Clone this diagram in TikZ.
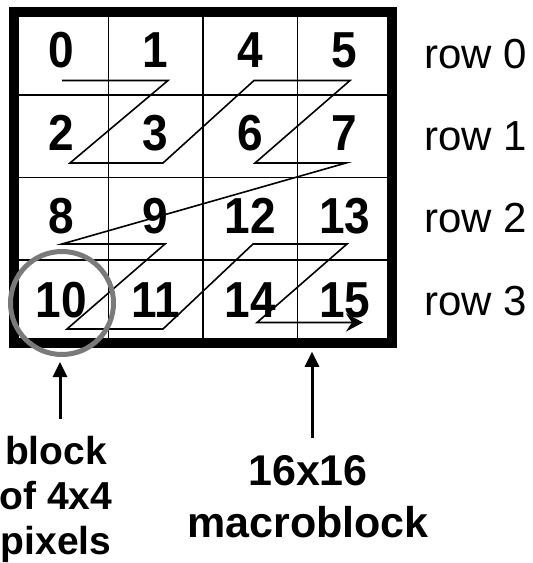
\documentclass[tikz,border=0pt]{standalone}
\usepackage{fontspec}
\usepackage{graphicx}
\setmainfont{Liberation Sans}
\usetikzlibrary{arrows.meta}
\definecolor{ringgray}{HTML}{7A7A7A}
\newcommand{\dgt}[1]{\scalebox{1}[1.1]{#1}}
\begin{document}
\begin{tikzpicture}[x=1pt,y=-1pt,
  num/.style={font=\fontsize{46}{46}\selectfont\bfseries, inner sep=0pt, anchor=base},
  rowlbl/.style={font=\fontsize{42}{42}\selectfont, inner sep=0pt, anchor=base west},
  gridline/.style={line width=1.8pt},
  zz/.style={line width=1.6pt, line join=miter},
  ptr/.style={line width=3pt, -{Triangle[length=15pt,width=14pt]}},
  lbl/.style={font=\bfseries, inner sep=0pt, anchor=north, align=center},
]
\useasboundingbox (0,0) rectangle (533,563);
% grid
\foreach \x in {108.5,203,297.5} \draw[gridline] (\x,12) -- (\x,343);
\foreach \y in {94.75,177.5,260.25} \draw[gridline] (14,\y) -- (392,\y);
% frame
\node[draw, line width=9.5pt, minimum width=378pt, minimum height=331pt, inner sep=0pt] (mb) at (203,177.5) {};
% numbers
\node[num] (c0) at (61.25,67.5) {\dgt{0}};
\node[num] (c1) at (155.75,67.5) {\dgt{1}};
\node[num] (c4) at (250.25,67.5) {\dgt{4}};
\node[num] (c5) at (344.75,67.5) {\dgt{5}};
\node[num] (c2) at (61.25,150.5) {\dgt{2}};
\node[num] (c3) at (155.75,150.5) {\dgt{3}};
\node[num] (c6) at (250.25,150.5) {\dgt{6}};
\node[num] (c7) at (344.75,150.5) {\dgt{7}};
\node[num] (c8) at (61.25,233.5) {\dgt{8}};
\node[num] (c9) at (155.75,233.5) {\dgt{9}};
\node[num] (c12) at (250.25,233.5) {\dgt{12}};
\node[num] (c13) at (344.75,233.5) {\dgt{13}};
\node[num] (c10) at (61.25,317.5) {\dgt{10}};
\node[num] (c11) at (155.75,317.5) {\dgt{11}};
\node[num] (c14) at (250.25,317.5) {\dgt{14}};
\node[num] (c15) at (344.75,317.5) {\dgt{15}};
% zigzag scan path
\coordinate (z1) at (62,80.5);
\coordinate (z2) at (168,80.5);
\coordinate (z3) at (70,163);
\coordinate (z4) at (163,163);
\coordinate (z5) at (254,80.5);
\coordinate (z6) at (350,80.5);
\coordinate (z7) at (255,163);
\coordinate (z8) at (346,163);
\coordinate (z9) at (62,244);
\coordinate (z10) at (165,244);
\coordinate (z11) at (67,329);
\coordinate (z12) at (163,329);
\coordinate (z13) at (253,244);
\coordinate (z14) at (347,244);
\coordinate (z15) at (257,322.5);
\coordinate (z16) at (363,322.5);
\draw[zz, -{Stealth[length=17pt,width=18pt,inset=6pt]}] (z1) -- (z2) -- (z3) -- (z4) -- (z5) -- (z6) -- (z7) -- (z8) -- (z9) -- (z10) -- (z11) -- (z12) -- (z13) -- (z14) -- (z15) -- (z16);
% ring around block 10
\node[draw=ringgray, line width=5pt, circle, minimum size=103pt, inner sep=0pt] (blk) at (62,303) {};
% row labels
\node[rowlbl] (r0) at (424,68) {row 0};
\node[rowlbl] (r1) at (424,150.5) {row 1};
\node[rowlbl] (r2) at (424,232.5) {row 2};
\node[rowlbl] (r3) at (424,315.5) {row 3};
% bottom labels
\node[lbl, font=\fontsize{39}{45}\selectfont\bfseries] (blocklbl) at (56,436) {block\\of 4x4\\pixels};
\node[lbl, font=\fontsize{43}{52}\selectfont\bfseries] (mblbl) at (308,455) {16x16\\macroblock};
% pointers
\coordinate (a1) at (60,419);
\coordinate (a2) at (312,438);
\draw[ptr, shorten >=5pt] (a1) -- (a1 |- blk.south);
\draw[ptr, shorten >=4pt] (a2) -- (a2 |- mb.south);
\end{tikzpicture}
\end{document}
